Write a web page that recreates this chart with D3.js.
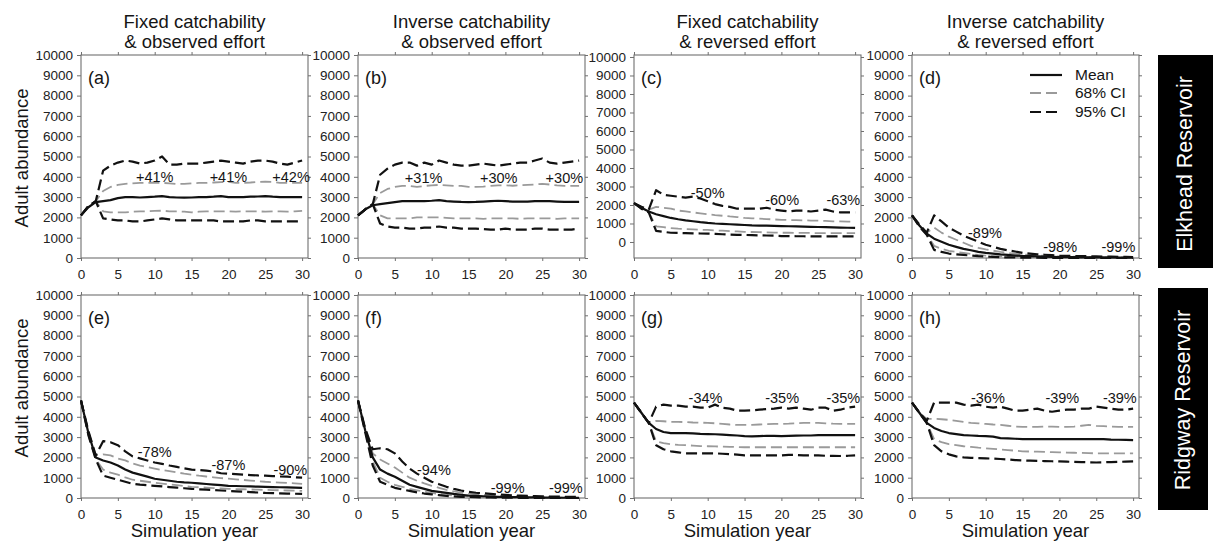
<!DOCTYPE html>
<html><head><meta charset="utf-8">
<script src="https://cdn.jsdelivr.net/npm/d3@7"></script>
<style>
body{margin:0;background:#fff;}
svg{display:block;font-family:"Liberation Sans",Arial,Helvetica,sans-serif;}
</style></head><body>
<svg id="chart" width="1213" height="548"></svg>
<script>
// ---------------- DATA ----------------
const years = [0,1,2,3,4,5,6,7,8,9,10,11,12,13,14,15,16,17,18,19,20,21,22,23,24,25,26,27,28,29,30];
const xTicks = [0,5,10,15,20,25,30];
const yTicks = [0,1000,2000,3000,4000,5000,6000,7000,8000,9000,10000];
const colTitles1 = ["Fixed catchability","Inverse catchability","Fixed catchability","Inverse catchability"];
const colTitles2 = ["& observed effort","& observed effort","& reversed effort","& reversed effort"];
const rowLabels = ["Elkhead Reservoir","Ridgway Reservoir"];
const panelLetters = ["(a)","(b)","(c)","(d)","(e)","(f)","(g)","(h)"];
const legendLabels = ["Mean","68% CI","95% CI"];

// (a)
const meanA = [2100,2500,2750,2800,2850,2950,3000,3000,2980,3000,3020,3050,3000,2980,2970,2980,3000,3000,3020,3050,3000,3000,3000,3020,3030,3050,3020,3000,3000,3000,3000];
const hi95A = [2100,2550,2800,4300,4550,4700,4800,4750,4650,4700,4800,5000,4600,4600,4650,4650,4650,4700,4750,4800,4750,4700,4650,4750,4800,4800,4750,4650,4600,4700,4800];
const hi68A = [2100,2550,2800,3300,3500,3600,3650,3680,3700,3700,3720,3700,3680,3650,3650,3680,3700,3700,3720,3740,3750,3700,3700,3720,3750,3760,3750,3700,3700,3700,3700];
const lo68A = [2100,2550,2800,2300,2250,2250,2250,2280,2300,2300,2320,2330,2300,2300,2280,2250,2280,2300,2300,2300,2300,2280,2300,2300,2300,2280,2300,2300,2280,2300,2320];
const lo95A = [2100,2550,2800,1950,1900,1850,1850,1800,1800,1850,1900,1950,1900,1850,1850,1850,1850,1850,1850,1800,1800,1800,1800,1850,1850,1800,1800,1800,1800,1800,1800];
// (b)
const meanB = [2100,2400,2600,2650,2700,2750,2800,2800,2800,2800,2820,2850,2800,2780,2760,2750,2760,2780,2800,2820,2800,2780,2780,2780,2800,2800,2800,2780,2760,2760,2760];
const hi95B = [2100,2400,2650,4100,4400,4600,4700,4700,4550,4700,4600,4800,4700,4600,4550,4550,4600,4650,4600,4550,4600,4650,4700,4700,4800,4900,4700,4650,4700,4750,4800];
const hi68B = [2100,2400,2650,3200,3400,3500,3550,3550,3500,3550,3580,3600,3580,3550,3550,3500,3500,3520,3550,3580,3580,3560,3580,3600,3620,3650,3620,3580,3550,3550,3550];
const lo68B = [2100,2400,2650,2100,1950,1950,1950,1950,2000,2000,2000,2000,1980,1950,1950,1950,1950,1930,1950,1950,1950,1950,1930,1950,1950,1950,1950,1930,1950,1950,1950];
const lo95B = [2100,2400,2650,1700,1550,1500,1500,1450,1450,1500,1500,1550,1500,1500,1450,1450,1450,1420,1400,1400,1450,1400,1400,1400,1450,1450,1400,1400,1400,1400,1450];
// (c)
const meanC = [2100,1850,1650,1500,1400,1300,1230,1170,1120,1070,1030,1000,980,960,940,920,900,890,880,870,860,850,840,830,820,810,800,790,780,770,760];
const hi95C = [2100,1900,1750,2800,2550,2500,2450,2400,2450,2350,2200,2050,1950,1900,1800,1800,1800,1800,1850,1750,1700,1650,1700,1700,1650,1700,1750,1650,1600,1600,1600];
const hi68C = [2100,1900,1750,1900,1850,1800,1700,1650,1600,1550,1500,1450,1420,1380,1350,1300,1280,1260,1240,1220,1200,1190,1180,1170,1160,1150,1140,1120,1110,1100,1100];
const lo68C = [2100,1800,1600,850,800,750,720,700,680,660,650,630,610,590,570,550,540,530,520,510,500,500,490,490,490,480,480,480,480,480,480];
const lo95C = [2100,1800,1600,600,550,500,490,480,470,460,450,440,420,400,390,380,370,360,350,340,320,320,310,310,300,300,300,300,300,300,300];
// (d)
const meanD = [2100,1600,1200,950,800,650,550,450,380,300,250,220,180,150,120,100,90,80,70,60,50,45,40,35,32,30,28,25,22,20,20];
const hi95D = [2100,1650,1250,2100,1800,1500,1300,1100,950,800,650,550,450,380,320,250,220,180,160,140,120,110,100,95,90,80,70,65,60,55,50];
const hi68D = [2100,1650,1250,1500,1250,1050,900,750,600,500,420,360,300,250,210,180,150,130,110,90,80,70,65,60,55,50,45,40,35,30,30];
const lo68D = [2100,1550,1150,600,450,350,300,250,200,150,120,100,80,70,60,50,45,40,30,25,20,20,15,15,10,10,10,10,10,10,10];
const lo95D = [2100,1550,1150,400,300,220,180,150,120,90,70,50,40,30,25,20,15,12,10,10,10,5,5,5,5,0,0,0,0,0,0];
// (e)
const meanE = [4800,3200,2000,1850,1750,1600,1400,1250,1150,1050,950,900,850,800,770,750,720,690,660,630,600,590,580,570,560,550,540,530,520,510,500];
const hi95E = [4800,3300,2100,2800,2750,2600,2300,2050,1950,1850,1750,1680,1600,1530,1460,1400,1380,1350,1300,1220,1200,1180,1150,1130,1110,1100,1080,1060,1050,1020,1000];
const hi68E = [4800,3300,2100,2150,2100,1950,1850,1700,1600,1520,1450,1380,1320,1260,1200,1150,1100,1060,1020,980,950,920,890,860,830,800,780,760,740,720,700];
const lo68E = [4800,3100,1900,1400,1250,1150,1020,900,850,800,750,710,670,630,590,550,530,510,490,470,450,440,430,420,410,400,390,380,370,360,350];
const lo95E = [4800,3100,1900,1100,1000,900,800,700,660,630,600,570,540,510,480,450,430,410,390,370,350,330,310,290,270,250,240,230,220,210,200];
// (f)
const meanF = [4800,3300,2000,1400,1200,1050,850,650,550,450,350,300,250,200,160,120,100,85,70,60,50,45,40,35,30,20,18,15,12,10,10];
const hi95F = [4800,3400,2400,2450,2400,2200,1800,1450,1200,1000,800,680,550,450,370,300,260,230,200,170,150,130,115,100,90,80,70,65,60,55,50];
const hi68F = [4800,3350,2200,1900,1700,1500,1250,1000,850,720,600,500,400,330,270,220,180,150,130,110,100,90,80,70,60,50,45,40,35,30,30];
const lo68F = [4800,3250,1800,1000,800,650,550,450,380,310,250,200,160,120,100,80,60,50,40,35,30,25,20,18,15,12,10,10,10,10,10];
const lo95F = [4800,3200,1600,800,650,500,420,350,280,220,180,140,100,80,60,50,40,30,25,20,20,15,10,10,5,5,0,0,0,0,0];
// (g)
const meanG = [4700,4200,3700,3400,3250,3200,3200,3200,3180,3160,3150,3140,3120,3100,3080,3050,3040,3050,3060,3060,3050,3060,3070,3080,3080,3100,3100,3100,3100,3100,3100];
const hi95G = [4700,4200,3700,4500,4600,4550,4550,4500,4500,4450,4450,4600,4450,4400,4300,4300,4320,4350,4380,4400,4450,4400,4450,4400,4350,4450,4450,4300,4350,4450,4500];
const hi68G = [4700,4200,3700,3800,3780,3750,3750,3740,3720,3710,3700,3680,3650,3620,3600,3600,3600,3620,3640,3650,3650,3660,3680,3700,3700,3700,3680,3660,3650,3650,3650];
const lo68G = [4700,4200,3700,2800,2700,2650,2620,2600,2580,2560,2550,2540,2530,2520,2510,2500,2500,2500,2500,2500,2500,2500,2500,2500,2500,2500,2500,2500,2500,2500,2500];
const lo95G = [4700,4200,3700,2600,2400,2300,2250,2200,2200,2200,2200,2200,2180,2160,2140,2100,2100,2100,2100,2100,2100,2120,2120,2100,2100,2100,2080,2080,2070,2080,2100];
// (h)
const meanH = [4700,4200,3700,3450,3300,3200,3150,3100,3080,3060,3050,3020,2950,2940,2920,2900,2900,2900,2900,2900,2900,2900,2900,2900,2900,2900,2900,2880,2870,2860,2850];
const hi95H = [4700,4200,3800,4700,4700,4700,4700,4600,4550,4600,4500,4450,4500,4400,4300,4300,4350,4400,4300,4250,4300,4350,4350,4400,4400,4500,4450,4400,4350,4350,4400];
const hi68H = [4700,4200,3900,3900,3880,3850,3800,3750,3700,3680,3650,3620,3600,3560,3520,3500,3500,3500,3520,3520,3500,3500,3520,3560,3600,3550,3540,3520,3500,3500,3500];
const lo68H = [4700,4200,3700,2900,2750,2650,2600,2550,2520,2480,2450,2420,2390,2360,2330,2300,2290,2280,2270,2260,2250,2240,2230,2220,2210,2200,2200,2200,2200,2200,2200];
const lo95H = [4700,4200,3700,2600,2300,2150,2050,2000,1980,1960,1950,1940,1920,1900,1870,1850,1840,1830,1820,1810,1800,1790,1780,1770,1760,1750,1760,1770,1780,1790,1800];

// percent-change annotations: [text, year, value]
const notesA = [["+41%",10,3990],["+41%",20,3990],["+42%",28.5,3990]];
const notesB = [["+31%",8.9,3940],["+30%",19.1,3940],["+30%",28,3940]];
const notesC = [["-50%",10,2650],["-60%",20.1,2250],["-63%",28.4,2250]];
const notesD = [["-89%",9.9,1230],["-98%",20.1,540],["-99%",28,520]];
const notesE = [["-78%",10,2280],["-87%",20,1630],["-90%",28.4,1380]];
const notesF = [["-94%",10.3,1380],["-99%",20.3,510],["-99%",28.2,510]];
const notesG = [["-34%",9.7,4930],["-35%",20.1,4930],["-35%",28.4,4930]];
const notesH = [["-36%",10.3,4930],["-39%",20.4,4930],["-39%",28.2,4930]];

const panels = [
  {mean:meanA,hi95:hi95A,hi68:hi68A,lo68:lo68A,lo95:lo95A,notes:notesA,yMin:0,yMax:10000},
  {mean:meanB,hi95:hi95B,hi68:hi68B,lo68:lo68B,lo95:lo95B,notes:notesB,yMin:0,yMax:10000},
  {mean:meanC,hi95:hi95C,hi68:hi68C,lo68:lo68C,lo95:lo95C,notes:notesC,yMin:-865,yMax:10108},
  {mean:meanD,hi95:hi95D,hi68:hi68D,lo68:lo68D,lo95:lo95D,notes:notesD,yMin:0,yMax:10000},
  {mean:meanE,hi95:hi95E,hi68:hi68E,lo68:lo68E,lo95:lo95E,notes:notesE,yMin:0,yMax:10000},
  {mean:meanF,hi95:hi95F,hi68:hi68F,lo68:lo68F,lo95:lo95F,notes:notesF,yMin:0,yMax:10000},
  {mean:meanG,hi95:hi95G,hi68:hi68G,lo68:lo68G,lo95:lo95G,notes:notesG,yMin:0,yMax:10000},
  {mean:meanH,hi95:hi95H,hi68:hi68H,lo68:lo68H,lo95:lo95H,notes:notesH,yMin:0,yMax:10000}
];

// ---------------- DRAW ----------------
const svg = d3.select("#chart");
svg.append("rect").attr("width",1213).attr("height",548).attr("fill","#fff");

const colLeft = [81,358,634,912], rowTop = [55,295], pw = 227, ph = 203;
const frameCol = "#707070", textCol = "#151515";
const styles = {
  mean:{stroke:"#111",width:2.2,dash:null},
  c68:{stroke:"#9a9a9a",width:1.8,dash:"11,5"},
  c95:{stroke:"#111",width:2.2,dash:"11,5"}
};

panels.forEach((p,i)=>{
  const col = i%4, row = Math.floor(i/4);
  const L = colLeft[col], T = rowTop[row];
  const x = d3.scaleLinear().domain([0,30.8]).range([L,L+pw]);
  const y = d3.scaleLinear().domain([p.yMin,p.yMax]).range([T+ph,T]);
  const g = svg.append("g");

  const ax = (sel)=>{sel.select(".domain").remove();
    sel.selectAll(".tick line").attr("stroke",frameCol);
    sel.selectAll(".tick text").attr("fill","#222").style("font-size","13.5px").style("font-family","'Liberation Sans',Arial,sans-serif");};
  g.append("g").attr("transform",`translate(${L},0)`)
    .call(d3.axisLeft(y).tickValues(yTicks).tickSize(4).tickPadding(4).tickFormat(d3.format("d"))).call(ax);
  g.append("g").attr("transform",`translate(${L+pw},0)`)
    .call(d3.axisRight(y).tickValues(yTicks).tickSize(3).tickFormat("")).call(ax);
  g.append("g").attr("transform",`translate(0,${T+ph})`)
    .call(d3.axisBottom(x).tickValues(xTicks).tickSize(3).tickPadding(8)).call(ax);
  g.append("g").attr("transform",`translate(0,${T})`)
    .call(d3.axisTop(x).tickValues(xTicks).tickSize(3).tickFormat("")).call(ax);
  g.append("rect").attr("x",L).attr("y",T).attr("width",pw).attr("height",ph)
    .attr("fill","none").attr("stroke",frameCol).attr("stroke-width",1.1);

  const line = d3.line().x((d,k)=>x(years[k])).y(d=>y(d)).curve(d3.curveLinear);
  const draw = (arr,s)=>g.append("path").attr("d",line(arr)).attr("fill","none")
      .attr("stroke",s.stroke).attr("stroke-width",s.width)
      .attr("stroke-dasharray",s.dash).attr("stroke-linejoin","round");
  draw(p.hi68,styles.c68); draw(p.lo68,styles.c68);
  draw(p.hi95,styles.c95); draw(p.lo95,styles.c95);
  draw(p.mean,styles.mean);

  p.notes.forEach(n=>{
    g.append("text").attr("x",x(n[1])).attr("y",y(n[2])+5).attr("text-anchor","middle")
      .attr("fill",textCol).style("font-size","14.5px").text(n[0]);
  });
  g.append("text").attr("x",L+7).attr("y",T+29).attr("fill",textCol)
    .style("font-size","18px").text(panelLetters[i]);

  if(row===0){
    g.append("text").attr("x",L+pw/2).attr("y",28).attr("text-anchor","middle")
      .attr("fill",textCol).style("font-size","18.5px").text(colTitles1[col]);
    g.append("text").attr("x",L+pw/2).attr("y",48).attr("text-anchor","middle")
      .attr("fill",textCol).style("font-size","18.5px").text(colTitles2[col]);
  } else {
    g.append("text").attr("x",L+pw/2).attr("y",537).attr("text-anchor","middle")
      .attr("fill",textCol).style("font-size","18.5px").text("Simulation year");
  }
  if(col===0){
    const cy = row===0 ? 158 : 388;
    g.append("text").attr("transform",`translate(28,${cy}) rotate(-90)`).attr("text-anchor","middle")
      .attr("fill",textCol).style("font-size","18.5px").text("Adult abundance");
  }
});

// row label boxes
const boxes = [{x:1158,y:55,w:55,h:213,tx:1192,ty:164},{x:1158,y:288,w:50,h:222,tx:1190,ty:400}];
boxes.forEach((b,k)=>{
  svg.append("rect").attr("x",b.x).attr("y",b.y).attr("width",b.w).attr("height",b.h).attr("fill","#000");
  svg.append("text").attr("transform",`translate(${b.tx},${b.ty}) rotate(-90)`).attr("text-anchor","middle")
    .attr("fill","#fff").style("font-size","21.5px").text(rowLabels[k]);
});

// legend in panel (d)
const legStyles = [styles.mean, styles.c68, styles.c95];
const legY = [75,93,112];
legendLabels.forEach((lab,k)=>{
  const s = legStyles[k];
  svg.append("line").attr("x1",1030).attr("x2",1062).attr("y1",legY[k]).attr("y2",legY[k])
    .attr("stroke",s.stroke).attr("stroke-width",s.width).attr("stroke-dasharray",s.dash ? "11,5" : null);
  svg.append("text").attr("x",1075).attr("y",legY[k]+5).attr("fill",textCol)
    .style("font-size","15.5px").text(lab);
});
</script>
</body></html>
